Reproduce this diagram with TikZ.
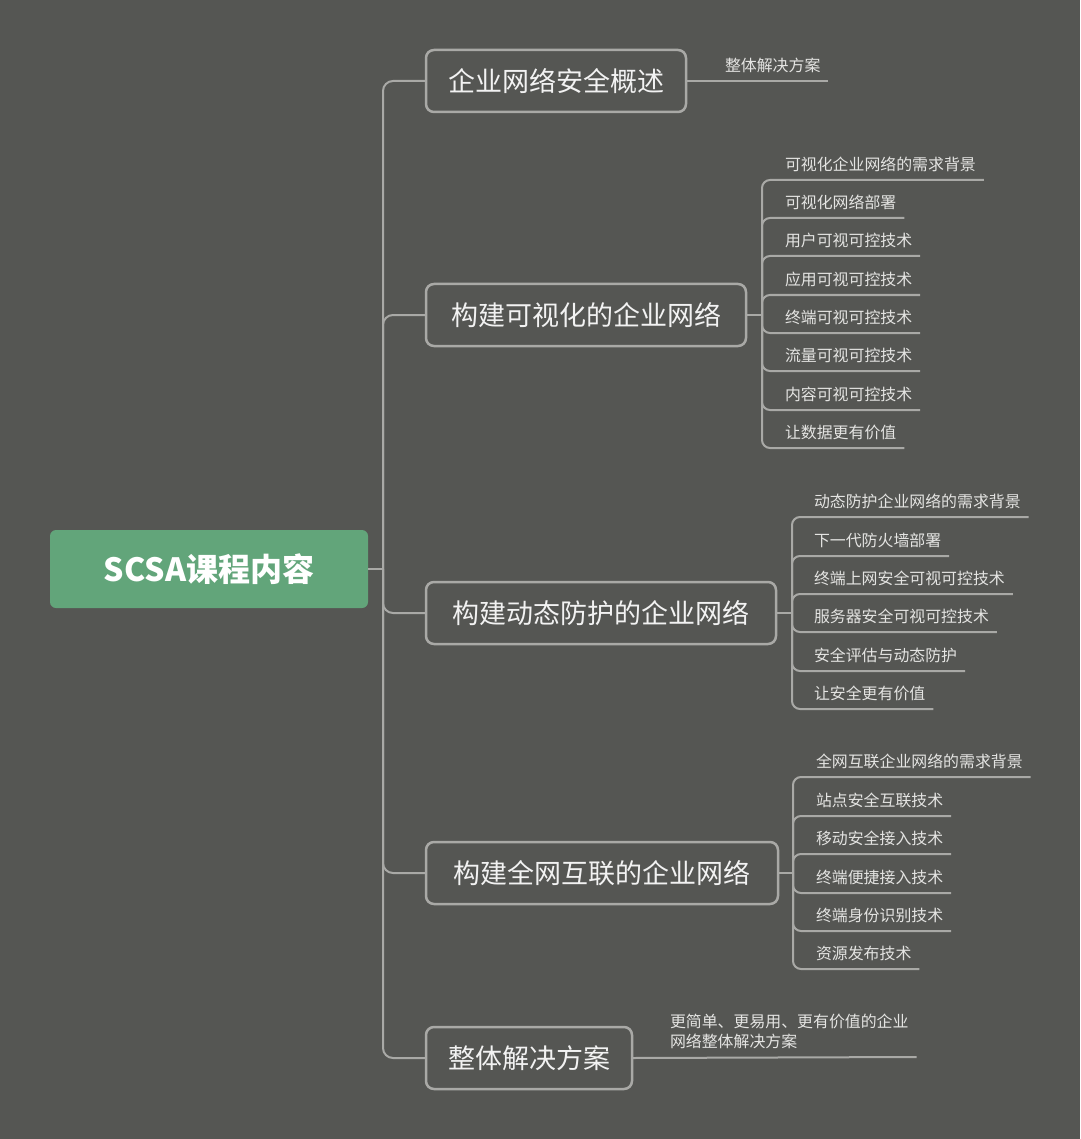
\documentclass[tikz,border=0pt]{standalone}
\usepackage{fontspec}
\setmainfont{Noto Sans CJK SC}
\usepackage{tikz}

\definecolor{bgcol}{HTML}{555653}
\definecolor{linecol}{HTML}{A9A9A6}
\definecolor{rootcol}{HTML}{62A57A}
\definecolor{boxtext}{HTML}{F2F2F2}
\definecolor{leaftext}{HTML}{E4E4E2}

\begin{document}
\begin{tikzpicture}[x=1pt, y=-1pt,
  every node/.style={outer sep=0pt},
  line/.style={draw=linecol, line width=2pt},
  root/.style={fill=rootcol, rounded corners=6pt, minimum width=318pt, minimum height=78pt, text=white, font=\fontsize{32}{36}\selectfont\bfseries},
  topic/.style={draw=linecol, line width=2.5pt, rounded corners=8pt, minimum height=62pt, anchor=west, text=boxtext, font=\fontsize{27}{32}\selectfont},
  leaf/.style={anchor=south west, inner xsep=8pt, inner ysep=8pt, text=leaftext, font=\fontsize{15.9}{20}\selectfont}]
\fill[bgcol] (0,0) rectangle (1080,1139);
\useasboundingbox (0,0) rectangle (1080,1139);

\node[root] (root) at (209,569) {SCSA课程内容};

\node[topic, minimum width=260pt] (b1) at (426,81) {企业网络安全概述};
\node[topic, minimum width=320pt] (b2) at (426,315) {构建可视化的企业网络};
\node[topic, minimum width=350pt] (b3) at (426,613) {构建动态防护的企业网络};
\node[topic, minimum width=352pt] (b4) at (426,873) {构建全网互联的企业网络};
\node[topic, minimum width=206pt] (b5) at (426,1058) {整体解决方案};

\coordinate (jm) at (383,569);
\coordinate (j2) at (762,315);
\coordinate (j3) at (792,613);
\coordinate (j4) at (793,873);

% leaves of the first and last topic
\node[leaf] (l11) at (717,81) {整体解决方案};
\node[leaf, align=left] (l51) at (662,1057) {更简单、更易用、更有价值的企业\\网络整体解决方案};

% leaves of the second topic
\node[leaf] (l21) at (777,180) {可视化企业网络的需求背景};
\node[leaf] (l22) at (777,218) {可视化网络部署};
\node[leaf] (l23) at (777,256) {用户可视可控技术};
\node[leaf] (l24) at (777,295) {应用可视可控技术};
\node[leaf] (l25) at (777,333) {终端可视可控技术};
\node[leaf] (l26) at (777,371) {流量可视可控技术};
\node[leaf] (l27) at (777,410) {内容可视可控技术};
\node[leaf] (l28) at (777,448) {让数据更有价值};

% leaves of the third topic
\node[leaf] (l31) at (806,517) {动态防护企业网络的需求背景};
\node[leaf] (l32) at (806,556) {下一代防火墙部署};
\node[leaf] (l33) at (806,594) {终端上网安全可视可控技术};
\node[leaf] (l34) at (806,632) {服务器安全可视可控技术};
\node[leaf] (l35) at (806,671) {安全评估与动态防护};
\node[leaf] (l36) at (806,709) {让安全更有价值};

% leaves of the fourth topic
\node[leaf] (l41) at (808,777) {全网互联企业网络的需求背景};
\node[leaf] (l42) at (808,816) {站点安全互联技术};
\node[leaf] (l43) at (808,854) {移动安全接入技术};
\node[leaf] (l44) at (808,893) {终端便捷接入技术};
\node[leaf] (l45) at (808,931) {终端身份识别技术};
\node[leaf] (l46) at (808,969) {资源发布技术};

% root to topics
\draw[line] (root.east) -- (jm);
\draw[line, rounded corners=10pt] (jm) |- (b1.west);
\draw[line, rounded corners=10pt] (jm) |- (b2.west);
\draw[line, rounded corners=10pt] (jm) |- (b3.west);
\draw[line, rounded corners=10pt] (jm) |- (b4.west);
\draw[line, rounded corners=10pt] (jm) |- (b5.west);

% topics to leaves
\draw[line] (b1.east) -- (l11.south east);
\draw[line] (b5.east) -- (l51.south east);

\draw[line] (b2.east) -- (j2);
\draw[line, rounded corners=8pt] (j2) |- (l21.south east);
\draw[line, rounded corners=8pt] (j2) |- (l22.south east);
\draw[line, rounded corners=8pt] (j2) |- (l23.south east);
\draw[line, rounded corners=8pt] (j2) |- (l24.south east);
\draw[line, rounded corners=8pt] (j2) |- (l25.south east);
\draw[line, rounded corners=8pt] (j2) |- (l26.south east);
\draw[line, rounded corners=8pt] (j2) |- (l27.south east);
\draw[line, rounded corners=8pt] (j2) |- (l28.south east);

\draw[line] (b3.east) -- (j3);
\draw[line, rounded corners=8pt] (j3) |- (l31.south east);
\draw[line, rounded corners=8pt] (j3) |- (l32.south east);
\draw[line, rounded corners=8pt] (j3) |- (l33.south east);
\draw[line, rounded corners=8pt] (j3) |- (l34.south east);
\draw[line, rounded corners=8pt] (j3) |- (l35.south east);
\draw[line, rounded corners=8pt] (j3) |- (l36.south east);

\draw[line] (b4.east) -- (j4);
\draw[line, rounded corners=8pt] (j4) |- (l41.south east);
\draw[line, rounded corners=8pt] (j4) |- (l42.south east);
\draw[line, rounded corners=8pt] (j4) |- (l43.south east);
\draw[line, rounded corners=8pt] (j4) |- (l44.south east);
\draw[line, rounded corners=8pt] (j4) |- (l45.south east);
\draw[line, rounded corners=8pt] (j4) |- (l46.south east);
\end{tikzpicture}
\end{document}
